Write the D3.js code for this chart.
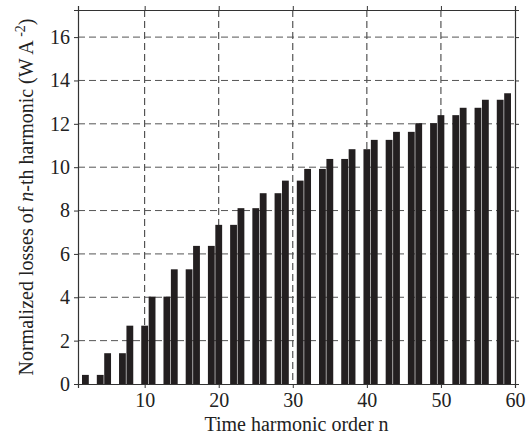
<!DOCTYPE html>
<html><head><meta charset="utf-8">
<script src="https://cdn.jsdelivr.net/npm/d3@7"></script>
<style>html,body{margin:0;padding:0;background:#fff;}</style>
</head><body>
<svg id="c" width="530" height="438"></svg>
<script>
const harmonicOrders = [2,4,5,7,8,10,11,13,14,16,17,19,20,22,23,25,26,28,29,31,32,34,35,37,38,40,41,43,44,46,47,49,50,52,53,55,56,58,59];
const losses = [0.42,0.42,1.42,1.42,2.69,2.69,4.03,4.03,5.29,5.29,6.37,6.37,7.34,7.34,8.11,8.11,8.80,8.80,9.38,9.38,9.92,9.92,10.38,10.38,10.83,10.83,11.26,11.26,11.63,11.63,12.03,12.03,12.40,12.40,12.74,12.74,13.11,13.11,13.41];
const xTicks = [10,20,30,40,50,60];
const yTicks = [0,2,4,6,8,10,12,14,16];

const L=78,R=515,T=10,B=384;
const svg=d3.select("#c");
const x=d3.scaleLinear().domain([1,60]).range([L,R]);
const y=d3.scaleLinear().domain([0,17.25]).range([B,T]);
const font="'Liberation Serif','Times New Roman',serif";

// grid
svg.append("g").selectAll("line").data(xTicks.filter(d=>d<60)).join("line")
  .attr("x1",d=>x(d)).attr("x2",d=>x(d)).attr("y1",T).attr("y2",B)
  .attr("stroke","#333").attr("stroke-width",1).attr("stroke-dasharray","7,4");
svg.append("g").selectAll("line").data(yTicks.filter(d=>d>0)).join("line")
  .attr("x1",L).attr("x2",R).attr("y1",d=>y(d)).attr("y2",d=>y(d))
  .attr("stroke","#555").attr("stroke-width",1).attr("stroke-dasharray","7,4");

// bars
const bw=0.46;
svg.append("g").selectAll("rect").data(harmonicOrders.map((n,i)=>({n,v:losses[i]}))).join("rect")
  .attr("x",d=>x(d.n-bw)).attr("width",d=>x(d.n+bw)-x(d.n-bw))
  .attr("y",d=>y(d.v)).attr("height",d=>y(0)-y(d.v))
  .attr("fill","#231f20");

// axes
const ax=(g,axis)=>{g.call(axis); g.selectAll("path,line").attr("stroke","#333"); g.selectAll("text").attr("font-family",font).attr("font-size",20).attr("fill","#222");};
svg.append("g").attr("transform",`translate(0,${B})`).call(g=>ax(g,d3.axisBottom(x).tickValues(xTicks).tickSizeOuter(0).tickSize(4).tickPadding(5)));
svg.append("g").attr("transform",`translate(0,${T})`).call(g=>{ax(g,d3.axisTop(x).tickValues(xTicks).tickSizeOuter(0).tickSize(4)); g.selectAll("text").remove();});
svg.append("g").attr("transform",`translate(${L},0)`).call(g=>ax(g,d3.axisLeft(y).tickValues(yTicks).tickSizeOuter(0).tickSize(4).tickPadding(4)));
svg.append("g").attr("transform",`translate(${R},0)`).call(g=>{ax(g,d3.axisRight(y).tickValues(yTicks).tickSizeOuter(0).tickSize(4)); g.selectAll("text").remove();});
svg.selectAll(".domain").attr("stroke-width",1.2);

// titles
svg.append("text").attr("x",(L+R)/2).attr("y",431).attr("text-anchor","middle")
  .attr("font-family",font).attr("font-size",20).attr("fill","#222").text("Time harmonic order n");
const yl=svg.append("text").attr("transform",`translate(33,${(T+B)/2}) rotate(-90)`).attr("text-anchor","middle")
  .attr("font-family",font).attr("font-size",20).attr("fill","#222");
yl.append("tspan").text("Normalized losses of ");
yl.append("tspan").attr("font-style","italic").text("n");
yl.append("tspan").text("-th harmonic (W A");
yl.append("tspan").attr("font-size",14).attr("dy",-8).text(" -2");
yl.append("tspan").attr("dy",8).text(")");
</script>
</body></html>
